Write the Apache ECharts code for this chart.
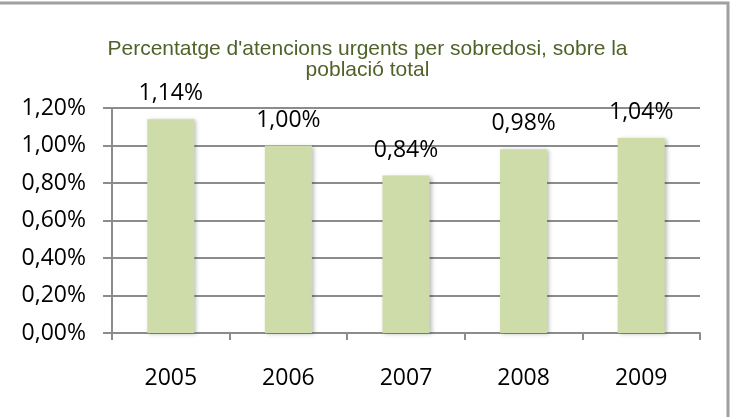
<script type="text/javascript" src="https://cdn.jsdelivr.net/npm/echarts/dist/echarts.min.js"></script>

<style>body { margin: 0; }</style>
<div id="container-bars" style="width:735px; height:417px;"></div>

<script type="text/javascript">
var years = ['2005', '2006', '2007', '2008', '2009'];
var percentValues = [1.14, 1.00, 0.84, 0.98, 1.04];
var titleText = "Percentatge d'atencions urgents per sobredosi, sobre la\npoblació total";

function fmtPct(v) {
	return v.toFixed(2).replace('.', ',') + '%';
}

var dom = document.getElementById("container-bars");
var myChart = echarts.init(dom);
var option = null;

option = {
	animation: false,
	backgroundColor: '#ffffff',
	title: {
		text: titleText,
		left: 'center',
		top: 34,
		textStyle: {
			color: '#4f6228',
			fontFamily: 'Liberation Sans',
			fontWeight: 'normal',
			fontSize: 21,
			lineHeight: 21
		}
	},
	graphic: [{
		type: 'rect',
		shape: { x: -10, y: 3, width: 738, height: 440 },
		style: { fill: 'none', stroke: '#a0a0a0', lineWidth: 3 },
		silent: true
	}],
	grid: {
		left: 112,
		right: 35,
		top: 108,
		bottom: 84
	},
	xAxis: {
		type: 'category',
		data: years,
		axisLine: { lineStyle: { color: '#8c8c8c', width: 2 } },
		axisTick: { show: true, length: 7, lineStyle: { color: '#8c8c8c', width: 2 } },
		axisLabel: {
			color: '#000000',
			fontFamily: 'Open Sans',
			fontSize: 23,
			margin: 34
		}
	},
	yAxis: {
		type: 'value',
		min: 0,
		max: 1.2,
		interval: 0.2,
		axisLine: { show: true, lineStyle: { color: '#8c8c8c', width: 2 } },
		axisTick: { show: true, length: 9, lineStyle: { color: '#8c8c8c', width: 2 } },
		splitLine: { lineStyle: { color: '#8c8c8c', width: 2 } },
		axisLabel: {
			color: '#000000',
			fontFamily: 'Open Sans',
			fontSize: 23,
			margin: 26,
			formatter: fmtPct
		}
	},
	series: [{
		type: 'bar',
		data: percentValues,
		barWidth: '40%',
		itemStyle: {
			color: '#cddca8',
			shadowColor: 'rgba(0,0,0,0.25)',
			shadowBlur: 4,
			shadowOffsetX: 2,
			shadowOffsetY: 1
		},
		label: {
			show: true,
			position: 'top',
			distance: 14,
			color: '#000000',
			fontFamily: 'Open Sans',
			fontSize: 23,
			formatter: function (p) { return fmtPct(p.value); }
		}
	}]
};

if (option && typeof option === "object") {
	myChart.setOption(option, true);
}
</script>
